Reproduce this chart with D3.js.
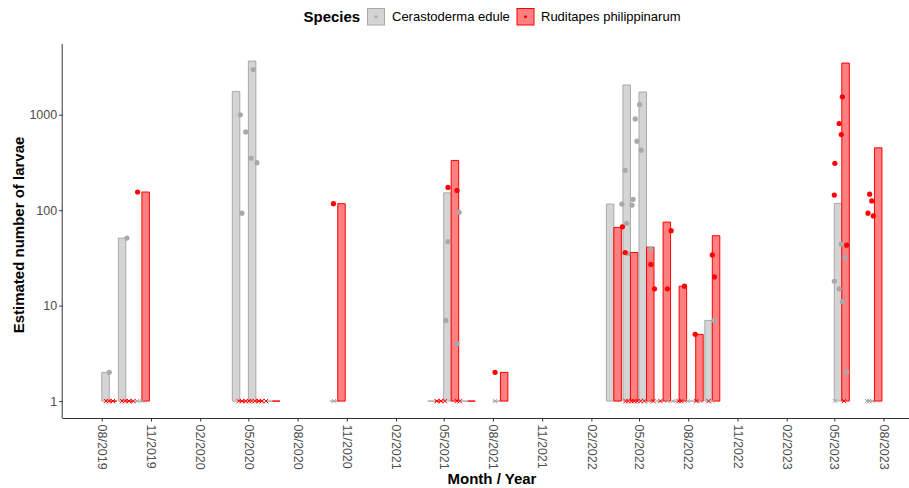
<!DOCTYPE html>
<html>
<head>
<meta charset="utf-8">
<script src="https://cdn.jsdelivr.net/npm/d3@7"></script>
<style>
  body { margin: 0; background: #fff; }
  svg { display: block; }
  text { font-family: "Liberation Sans", Arial, Helvetica, sans-serif; }
</style>
</head>
<body>
<svg id="chart" width="909" height="488"></svg>
<script>
// ---- data -------------------------------------------------------------
const species = ["Cerastoderma edule", "Ruditapes philippinarum"];

// Sampling months (bars centred mid-month)
const months = [
  "2019-08-15", "2019-09-15", "2019-10-15",
  "2020-04-15", "2020-05-15", "2020-06-15", "2020-10-15",
  "2021-04-15", "2021-05-15", "2021-06-15", "2021-08-15",
  "2022-03-15", "2022-04-15", "2022-05-15", "2022-06-15", "2022-07-15", "2022-08-15", "2022-09-15",
  "2023-05-15", "2023-07-15"
];
// Monthly total of larvae per species (0 = none found)
const cerastodermaTotals = [2, 51, 0, 1750, 3650, 0, 0, 0, 152, 0, 0, 116, 2050, 1730, 0, 0, 0, 7, 118, 0];
const ruditapesTotals    = [0, 0, 155, 0, 0, 0, 117, 0, 332, 0, 2, 66, 36, 41, 75, 16, 5, 54, 3480, 450];

// Individual samples with larvae: [sampling date, count]
const cerastodermaSamples = [
  ["2019-08-15", 2], ["2019-09-17", 51],
  ["2020-04-16", 1000], ["2020-04-19", 93], ["2020-04-26", 660],
  ["2020-05-10", 2970], ["2020-05-06", 350], ["2020-05-17", 315],
  ["2021-05-30", 95], ["2021-05-09", 47], ["2021-05-05", 7], ["2021-05-26", 4],
  ["2022-03-30", 116],
  ["2022-04-05", 262], ["2022-04-08", 73], ["2022-04-10", 35], ["2022-04-18", 113],
  ["2022-04-20", 130], ["2022-04-24", 904], ["2022-04-27", 528],
  ["2022-05-02", 1279], ["2022-05-05", 425], ["2022-05-23", 39],
  ["2022-09-19", 7],
  ["2023-05-14", 44], ["2023-05-21", 32], ["2023-05-01", 18], ["2023-05-10", 15],
  ["2023-05-16", 11], ["2023-05-24", 2]
];
const ruditapesSamples = [
  ["2019-10-07", 155], ["2020-10-07", 117],
  ["2021-05-09", 173], ["2021-05-26", 161], ["2021-08-05", 2],
  ["2022-03-31", 67], ["2022-04-05", 36],
  ["2022-05-23", 27], ["2022-05-30", 15],
  ["2022-06-30", 61], ["2022-06-23", 15],
  ["2022-07-25", 16], ["2022-08-14", 5],
  ["2022-09-15", 34], ["2022-09-19", 20],
  ["2023-05-16", 1540], ["2023-05-10", 810], ["2023-05-14", 620],
  ["2023-05-02", 310], ["2023-05-01", 144], ["2023-05-24", 43],
  ["2023-07-06", 147], ["2023-07-10", 125], ["2023-07-03", 93], ["2023-07-13", 87]
];

// Samples in which no larvae were found
const cerastodermaZeros = [
  "2019-10-06", "2019-10-16", "2020-10-08", "2021-08-05",
  "2022-05-19", "2022-06-23", "2022-07-03", "2022-07-31", "2022-08-24", "2022-09-15",
  "2023-05-02", "2023-07-01", "2023-07-05", "2023-07-11"
];
const ruditapesZeros = [
  "2019-08-09", "2019-08-14", "2019-08-22", "2019-09-08", "2019-09-13", "2019-09-21", "2019-09-29",
  "2020-04-13", "2020-04-19", "2020-04-26", "2020-05-02", "2020-05-07", "2020-05-13",
  "2020-05-21", "2020-05-26", "2020-06-03",
  "2021-04-18", "2021-04-26", "2021-05-03", "2021-05-26", "2021-05-31",
  "2022-04-06", "2022-04-11", "2022-04-17", "2022-04-22", "2022-04-28", "2022-05-04",
  "2022-05-11", "2022-05-28", "2022-06-10", "2022-07-14", "2022-07-19", "2022-08-16", "2022-09-08",
  "2023-05-19"
];

const xTickDates = [
  "2019-08-01", "2019-11-01", "2020-02-01", "2020-05-01", "2020-08-01", "2020-11-01",
  "2021-02-01", "2021-05-01", "2021-08-01", "2021-11-01", "2022-02-01", "2022-05-01",
  "2022-08-01", "2022-11-01", "2023-02-01", "2023-05-01", "2023-08-01"
];
const yTicks = [1, 10, 100, 1000];

// ---- styling ----------------------------------------------------------
const fills   = ["#d4d4d4", "#ff8080"];
const strokes = ["#a9a9a9", "#ff0000"];
const barDays = 28;           // width of a month's dodged pair, in days

// ---- scales -------------------------------------------------------------
const parse = d3.utcParse("%Y-%m-%d");
const svg = d3.select("#chart");

const x = d3.scaleUtc()
  .domain([parse("2019-05-20"), parse("2023-10-10")])
  .range([62.7, 921]);
const y = d3.scaleLog()
  .domain([0.665, 5510])
  .range([418, 44]);

const dayPx = x(d3.utcDay.offset(parse("2020-01-01"), 1)) - x(parse("2020-01-01"));
const halfW = dayPx * barDays / 2;

// ---- bars ---------------------------------------------------------------
const bars = [];
months.forEach((m, i) => {
  const c = x(parse(m));
  bars.push({ sp: 0, x0: c - halfW, x1: c, v: cerastodermaTotals[i] });
  bars.push({ sp: 1, x0: c, x1: c + halfW, v: ruditapesTotals[i] });
});

svg.append("g").selectAll("path").data(bars).join("path")
  .attr("d", d => {
    const yb = y(1), yt = y(Math.max(1, d.v));
    return `M${d.x0},${yb}H${d.x1}V${yt}H${d.x0}Z`;
  })
  .attr("fill", d => fills[d.sp])
  .attr("stroke", d => strokes[d.sp])
  .attr("stroke-width", 1);

// ---- zero samples (crosses) --------------------------------------------
const zeros = cerastodermaZeros.map(d => ({ sp: 0, d }))
  .concat(ruditapesZeros.map(d => ({ sp: 1, d })));
const cs = 2.2;
svg.append("g").selectAll("path").data(zeros).join("path")
  .attr("d", d => {
    const cx = x(parse(d.d)), cy = y(1);
    return `M${cx - cs},${cy - cs}L${cx + cs},${cy + cs}M${cx - cs},${cy + cs}L${cx + cs},${cy - cs}`;
  })
  .attr("stroke", d => strokes[d.sp])
  .attr("stroke-width", 1)
  .attr("fill", "none");

// ---- samples with larvae (dots) ----------------------------------------
const dots = cerastodermaSamples.map(([d, v]) => ({ sp: 0, d, v }))
  .concat(ruditapesSamples.map(([d, v]) => ({ sp: 1, d, v })));
svg.append("g").selectAll("circle").data(dots).join("circle")
  .attr("cx", d => x(parse(d.d)))
  .attr("cy", d => y(d.v))
  .attr("r", 2.6)
  .attr("fill", d => d.sp === 0 ? "#a9a9a9" : "#ff0000");

// ---- axes ---------------------------------------------------------------
const axisColor = "#333333";
const tickText = "#4d4d4d";

const xAxis = d3.axisBottom(x)
  .tickValues(xTickDates.map(parse))
  .tickFormat(d3.utcFormat("%m/%Y"))
  .tickSize(3.5).tickSizeOuter(0);
const gx = svg.append("g").attr("transform", "translate(0,418)").call(xAxis);
gx.select(".domain").attr("stroke", axisColor).attr("d", "M62.7,0.5H921");
gx.selectAll(".tick line").attr("stroke", axisColor);
gx.selectAll(".tick text")
  .attr("fill", tickText)
  .attr("font-size", "12.5px")
  .attr("text-anchor", "start")
  .attr("transform", "rotate(90)")
  .attr("x", 6.5)
  .attr("y", 0)
  .attr("dy", "0.35em");

const yAxis = d3.axisLeft(y)
  .tickValues(yTicks)
  .tickFormat(d3.format("d"))
  .tickSize(3.5).tickSizeOuter(0);
const gy = svg.append("g").attr("transform", "translate(62.7,0)").call(yAxis);
gy.select(".domain").attr("stroke", axisColor).attr("d", "M-0.5,44V418.5");
gy.selectAll(".tick line").attr("stroke", axisColor);
gy.selectAll(".tick text")
  .attr("fill", tickText)
  .attr("font-size", "12.5px")
  .attr("x", -5.5);
gx.attr("font-family", null);
gy.attr("font-family", null);

// axis titles
svg.append("text")
  .attr("x", 492).attr("y", 484)
  .attr("text-anchor", "middle")
  .attr("font-size", "15px").attr("font-weight", "bold")
  .attr("fill", "#000")
  .text("Month / Year");
svg.append("text")
  .attr("transform", "translate(24,235) rotate(-90)")
  .attr("text-anchor", "middle")
  .attr("font-size", "15px").attr("font-weight", "bold")
  .attr("fill", "#000")
  .text("Estimated number of larvae");

// ---- legend -------------------------------------------------------------
const legend = svg.append("g");
legend.append("text")
  .attr("x", 303.5).attr("y", 21.5)
  .attr("font-size", "15px").attr("font-weight", "bold")
  .attr("fill", "#000")
  .text("Species");
const keyX = [367.5, 517];
const labelX = [392, 541];
species.forEach((s, i) => {
  legend.append("rect")
    .attr("x", keyX[i]).attr("y", 8.5)
    .attr("width", 17).attr("height", 16.5)
    .attr("fill", fills[i]).attr("stroke", strokes[i]).attr("stroke-width", 1);
  legend.append("circle")
    .attr("cx", keyX[i] + 8.5).attr("cy", 16.75).attr("r", 1.6)
    .attr("fill", i === 0 ? "#a9a9a9" : "#ff0000");
  legend.append("text")
    .attr("x", labelX[i]).attr("y", 21.3)
    .attr("font-size", "13px").attr("fill", "#000")
    .text(s);
});
</script>
</body>
</html>
